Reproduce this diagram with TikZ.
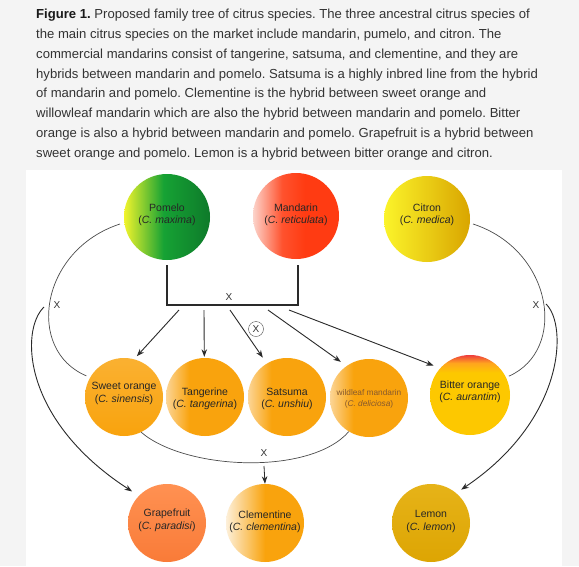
\documentclass[tikz,border=0pt]{standalone}
\usepackage{fontspec}
\setmainfont{Liberation Sans}
\usetikzlibrary{arrows.meta}
\usetikzlibrary{positioning}
\frenchspacing

\definecolor{pagegray}{HTML}{F4F4F4}
\definecolor{capgray}{HTML}{333333}
\definecolor{inkgray}{HTML}{2A2A2A}
\definecolor{pomY}{HTML}{F2F42C}
\definecolor{pomG}{HTML}{16A234}
\definecolor{pomD}{HTML}{0E7A2A}
\definecolor{mandL}{HTML}{FCD3CA}
\definecolor{mandR}{HTML}{FF3B12}
\definecolor{citY}{HTML}{FBF42A}
\definecolor{citD}{HTML}{D9A500}
\definecolor{peelO}{HTML}{F9A30D}
\definecolor{peelL}{HTML}{FCD596}
\definecolor{clemL}{HTML}{FDF0DA}
\definecolor{bitterY}{HTML}{FDC800}
\definecolor{bitterO}{HTML}{FFA41E}
\definecolor{bitterR}{HTML}{EE3D3D}
\definecolor{grapeT}{HTML}{FF9152}
\definecolor{grapeB}{HTML}{F97B38}
\definecolor{lemT}{HTML}{E6B318}
\definecolor{lemB}{HTML}{DDA503}
\pgfdeclarehorizontalshading{pomelo}{100bp}{color(0bp)=(pomY); color(25bp)=(pomY); color(48bp)=(pomG); color(75bp)=(pomD); color(100bp)=(pomD)}
\pgfdeclarehorizontalshading{mandarin}{100bp}{color(0bp)=(mandL); color(25bp)=(mandL); color(42bp)=(mandR!85!mandL); color(55bp)=(mandR); color(100bp)=(mandR)}
\pgfdeclarehorizontalshading{peel}{100bp}{color(0bp)=(peelL); color(25bp)=(peelL); color(40bp)=(peelO); color(100bp)=(peelO)}
\pgfdeclarehorizontalshading{clem}{100bp}{color(0bp)=(clemL); color(25bp)=(clemL); color(50bp)=(peelO); color(100bp)=(peelO)}
\pgfdeclareverticalshading{bitter}{100bp}{color(0bp)=(bitterY); color(64bp)=(bitterY); color(70bp)=(bitterO); color(75bp)=(bitterR); color(100bp)=(bitterR)}

% name and species, lifted by #1
\newcommand{\fruitlabel}[3][0pt]{\raisebox{#1}[\height][\depth]{\begin{tabular}{@{}c@{}}#2\\(\textit{#3})\end{tabular}}}

\begin{document}
\begin{tikzpicture}[x=1pt,y=-1pt,
  fruit/.style={circle,draw=none,minimum size=78pt,inner sep=0pt,
    font=\fontsize{10.5}{12.5}\selectfont,text=black!85},
  big/.style={fruit,minimum size=86pt},
  lnk/.style={draw=inkgray,line width=0.9pt},
  thinlnk/.style={draw=black!70,line width=0.7pt},
  arrowline/.style={lnk,-{Stealth[length=7.5pt,width=5.5pt]}},
  xmark/.style={inner sep=0pt,font=\fontsize{10}{12}\selectfont,text=black!80},
  captext/.style={anchor=base west,inner sep=0pt,font=\fontsize{13.1}{20}\selectfont,text=capgray}]
\useasboundingbox (0,0) rectangle (579,566);
\fill[pagegray] (0,0) rectangle (579,566);
\fill[white] (26,170) rectangle (562,566);

% caption
\node[captext] (cap1) at (36,18.5) {\textcolor{black!90}{\textbf{Figure 1.}} Proposed family tree of citrus species. The three ancestral citrus species of};
\node[captext] (cap2) at (36,38.4) {the main citrus species on the market include mandarin, pumelo, and citron. The};
\node[captext] (cap3) at (36,58.2) {commercial mandarins consist of tangerine, satsuma, and clementine, and they are};
\node[captext] (cap4) at (36,78.1) {hybrids between mandarin and pomelo. Satsuma is a highly inbred line from the hybrid};
\node[captext] (cap5) at (36,97.9) {of mandarin and pomelo. Clementine is the hybrid between sweet orange and};
\node[captext] (cap6) at (36,117.8) {willowleaf mandarin which are also the hybrid between mandarin and pomelo. Bitter};
\node[captext] (cap7) at (36,137.6) {orange is also a hybrid between mandarin and pomelo. Grapefruit is a hybrid between};
\node[captext] (cap8) at (36,157.5) {sweet orange and pomelo. Lemon is a hybrid between bitter orange and citron.};

% ancestors
\node[big,shading=pomelo] (pomelo) at (167,217) {\fruitlabel[2pt]{Pomelo}{C. maxima}};
\node[big,shading=mandarin] (mandarin) at (296,216) {\fruitlabel[1pt]{Mandarin}{C. reticulata}};
\node[big,left color=citY,middle color=citY!55!citD,right color=citD] (citron) at (427,219) {\fruitlabel[4pt]{Citron}{C. medica}};

% hybrids
\node[fruit,top color=peelO!85!white,bottom color=peelO] (sweet) at (124,397) {\fruitlabel[3.5pt]{Sweet orange}{C. sinensis}};
\node[fruit,shading=peel] (tangerine) at (205,397) {\fruitlabel[-2pt]{Tangerine}{C. tangerina}};
\node[fruit,shading=peel] (satsuma) at (287,397) {\fruitlabel[-2pt]{Satsuma}{C. unshiu}};
\node[fruit,shading=peel,font=\fontsize{8.3}{10.5}\selectfont,text=brown!70!black] (willow) at (369,398) {\fruitlabel[-1pt]{wildleaf mandarin}{C. deliciosa}};
\node[fruit,shading=bitter,minimum size=80pt] (bitter) at (470,395) {\fruitlabel[3pt]{Bitter orange}{C. aurantim}};
\node[fruit,top color=grapeT,bottom color=grapeB] (grapefruit) at (167,523) {\fruitlabel[2.5pt]{Grapefruit}{C. paradisi}};
\node[fruit,shading=clem] (clementine) at (265,523) {\fruitlabel[1pt]{Clementine}{C. clementina}};
\node[fruit,top color=lemT,bottom color=lemB] (lemon) at (431,523) {\fruitlabel[1.5pt]{Lemon}{C. lemon}};

% pomelo x mandarin
\coordinate (topL) at (167,265);
\coordinate (barL) at (167,305);
\coordinate (barR) at (298,305);
\coordinate (topR) at (298,265);
\draw[lnk,line width=1.1pt] (topL) -- (barL) -- (barR) -- (topR);
\node[xmark] (pmx) at (229,297) {X};
\node[xmark,circle,draw=black!70,thin,minimum size=15pt] (selfx) at (256,329) {X};
\foreach \s/\t/\a/\d in {179/sweet/75/4, 204/tangerine/91/1, 230/satsuma/121/7, 268/willow/125/7, 289/bitter/138/7}
{
  \coordinate (s-\t) at (\s,310);
  \draw[arrowline,shorten >=\d pt] (s-\t) -- (\t.\a);
}

% pomelo x sweet orange
\coordinate (pomeloL) at (120,224);
\draw[thinlnk,shorten >=4pt] (pomeloL) .. controls (40,250) and (25,350) .. (sweet.150);
\node[xmark] (psx) at (57,305) {X};
\coordinate (psL) at (44,307);
\draw[arrowline,shorten >=8pt] (psL) .. controls (20,330) and (22,420) .. (grapefruit.136);

% citron x bitter orange
\coordinate (citronR) at (473,224);
\draw[thinlnk,shorten >=3pt] (citronR) .. controls (553,250) and (568,350) .. (bitter.26);
\node[xmark] (cbx) at (536,305) {X};
\coordinate (cbR) at (546,304);
\draw[arrowline,shorten >=6pt] (cbR) .. controls (568,325) and (565,420) .. (lemon.50);

% sweet orange x willowleaf
\draw[thinlnk] (sweet.-64) .. controls (185,470) and (310,476) .. (willow.-121);
\node[xmark] (swx) at (264,453) {X};
\coordinate (swB) at (264,466);
\draw[arrowline,line width=0.8pt] (swB) -- (clementine.north);

\end{tikzpicture}
\end{document}
